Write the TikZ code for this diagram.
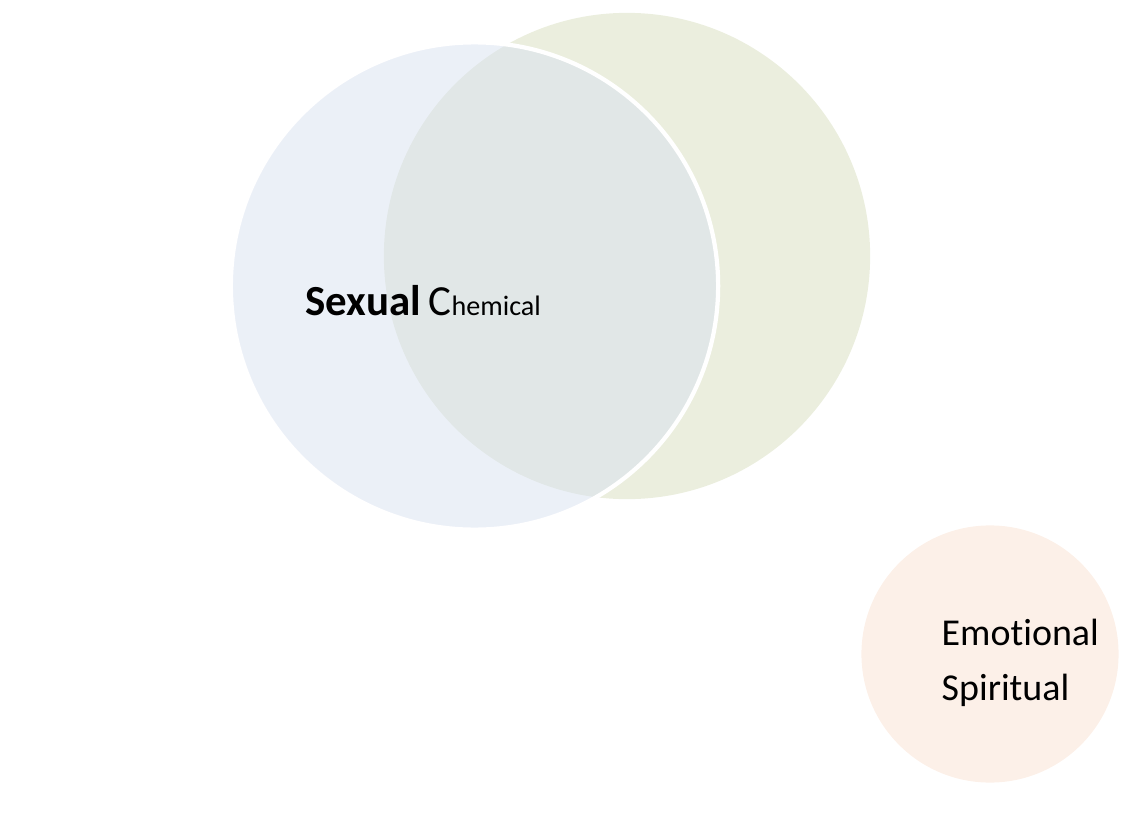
\documentclass[tikz,border=0pt]{standalone}
\usepackage{fontspec}
\setmainfont[Ligatures={NoCommon,NoRare}]{Carlito}
\definecolor{greenfill}{RGB}{235,238,222}
\definecolor{bluefill}{RGB}{216,225,240}
\definecolor{orangefill}{RGB}{252,240,232}
\tikzset{
  bubble/.style={circle, inner sep=0pt, draw=none},
  label text/.style={inner sep=0pt, anchor=base west, font=\fontsize{10.8pt}{13pt}\selectfont}
}
\begin{document}
\begin{tikzpicture}[x=0.01cm,y=-0.01cm]
  % Canvas
  \useasboundingbox (0,0) rectangle (1139,818);

  % Draw the large circles
  \node[bubble, fill=greenfill, minimum size=4.86cm] (chem) at (627,256) {};
  \node[bubble, fill=bluefill, fill opacity=0.5, draw=white, line width=1.2pt, minimum size=4.87cm] (sex) at (474.5,286) {};

  % Small circle
  \node[bubble, fill=orangefill, minimum size=2.57cm] (emo) at (990,654) {};

  % Labels
  \node[label text] (sexual) at (305,315) {\fontsize{12.2pt}{14pt}\selectfont\bfseries Sexual};
  \node[label text] (chemical) at (428,315) {\fontsize{12.2pt}{14pt}\selectfont C\fontsize{8pt}{11pt}\selectfont hemical};
  \node[label text] (emotional) at (941,645) {Emotional};
  \node[label text] (spiritual) at (941,700) {Spiritual};
\end{tikzpicture}
\end{document}
